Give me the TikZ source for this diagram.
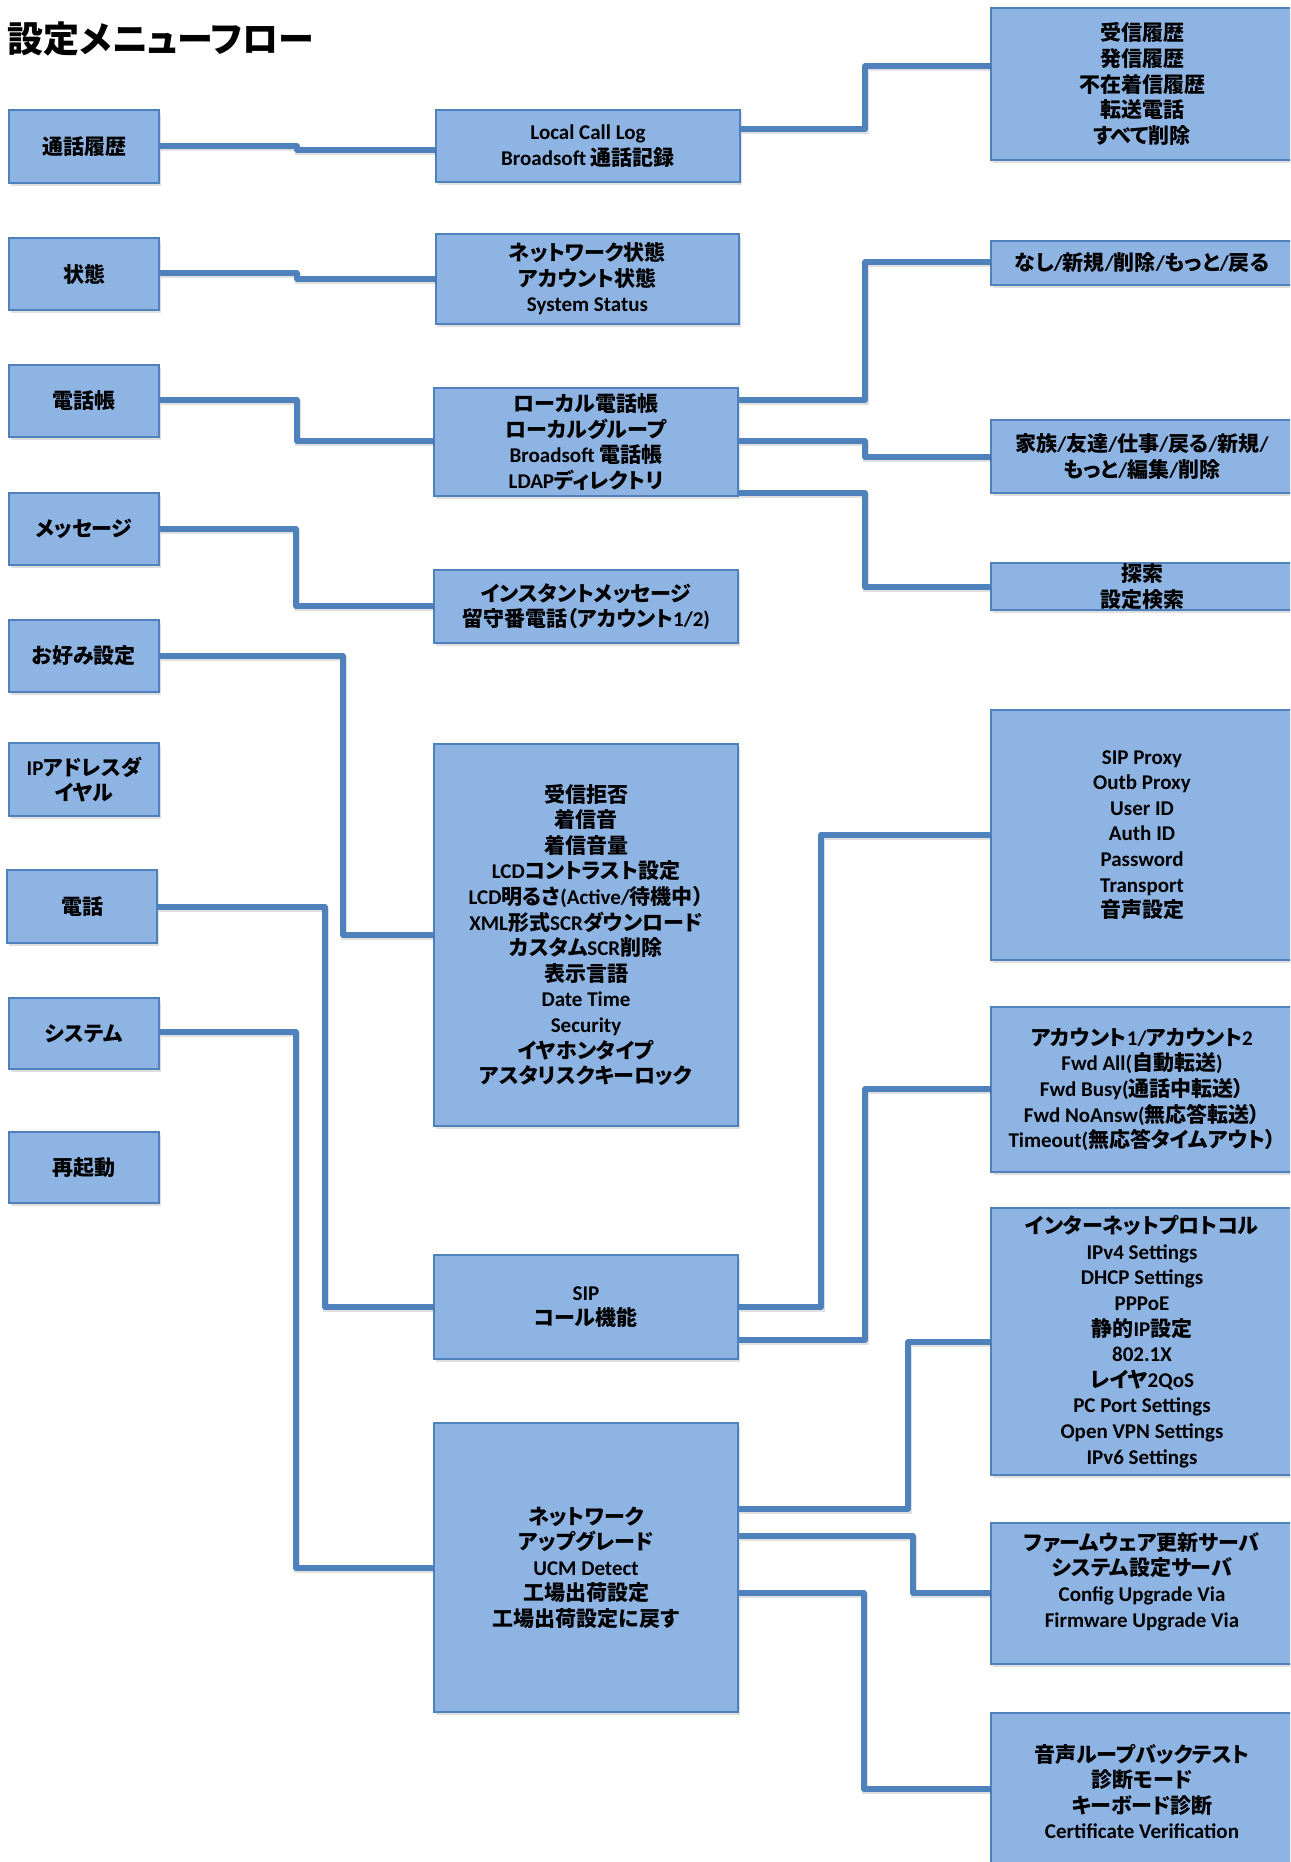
\documentclass[tikz,border=0pt]{standalone}
\usepackage{fontspec}
\setmainfont{Carlito}[Numbers=Lining]
\newfontfamily\jpfont{Noto Sans CJK JP}[Scale=1.0, RawFeature=+palt]
\usetikzlibrary{shadows}
\definecolor{boxfill}{HTML}{8EB4E3}
\definecolor{boxdraw}{HTML}{4F81BD}
\definecolor{linec}{HTML}{4F81BD}
\XeTeXinterchartokenstate=1
\newXeTeXintercharclass\jpclass
\makeatletter
\count@="3000
\loop \XeTeXcharclass\count@=\jpclass \ifnum\count@<"30FF \advance\count@ by 1 \repeat
\count@="4E00
\loop \XeTeXcharclass\count@=\jpclass \ifnum\count@<"9FFF \advance\count@ by 1 \repeat
\count@="FF00
\loop \XeTeXcharclass\count@=\jpclass \ifnum\count@<"FFEF \advance\count@ by 1 \repeat
\makeatother
\XeTeXinterchartoks 0 \jpclass = {\jpfont}
\XeTeXinterchartoks 4095 \jpclass = {\jpfont}
\XeTeXinterchartoks \jpclass 0 = {\rmfamily}
\XeTeXinterchartoks \jpclass 4095 = {\rmfamily}
\newcommand\bx[5]{\node[box, minimum width={#4-#2}, minimum height={#5-#3}] (#1) at ({(#2+#4)/2},{(#3+#5)/2}) {};}
\begin{document}
\begin{tikzpicture}[x=1pt,y=-1pt,
  box/.style={draw=boxdraw, fill=boxfill, line width=1.8pt, inner sep=0pt,
    drop shadow={shadow xshift=1.5pt, shadow yshift=-3pt, opacity=0.25}},
  txt/.style={align=center, inner sep=0pt, text=black, font=\bfseries\fontsize{21}{25.6}\selectfont},
  conn/.style={draw=linec, line width=5.5pt, line join=round,
    preaction={draw=black, opacity=0.12, line width=5.5pt, transform canvas={xshift=1pt, yshift=-2.5pt}}}]
\path[use as bounding box] (0,0) rectangle (1290,1862);
\fill[white] (0,0) rectangle (1290,1862);
\clip (0,0) rectangle (1290,1862);

\node[inner sep=0pt, font=\bfseries\fontsize{36}{42}\selectfont] (title) at (161,39) {設定メニューフロー};

% boxes
\bx{L1}{9}{110}{159}{183}
\bx{L2}{9}{238}{159}{310}
\bx{L3}{9}{365}{159}{437}
\bx{L4}{9}{493}{159}{565}
\bx{L5}{9}{620}{159}{692}
\bx{L6}{9}{743}{159}{816}
\bx{L7}{7}{870}{157}{943}
\bx{L8}{9}{998}{159}{1069}
\bx{L9}{9}{1132}{159}{1203}

\bx{M1}{436}{110}{740}{182}
\bx{M2}{436}{234}{739}{324}
\bx{M3}{434}{388}{738}{496}
\bx{M4}{434}{570}{738}{643}
\bx{M5}{434}{744}{738}{1126}
\bx{M6}{434}{1255}{738}{1359}
\bx{M7}{434}{1423}{738}{1712}

\bx{R1}{991}{8}{1293}{160}
\bx{R2}{991}{241}{1293}{285}
\bx{R3}{991}{420}{1293}{493}
\bx{R4}{991}{563}{1293}{610}
\bx{R5}{991}{710}{1293}{960}
\bx{R6}{991}{1007}{1293}{1172}
\bx{R7}{991}{1208}{1293}{1475}
\bx{R8}{991}{1523}{1293}{1664}
\bx{R9}{991}{1713}{1293}{1868}

% connectors left -> middle
\draw[conn] (L1.east |- 0,146) -- (297,146) -- (297,150) -- (M1.west |- 0,150);
\draw[conn] (L2.east |- 0,273) -- (297,273) -- (297,279) -- (M2.west |- 0,279);
\draw[conn] (L3.east |- 0,400) -- (297,400) -- (297,441) -- (M3.west |- 0,441);
\draw[conn] (L4.east |- 0,529) -- (296,529) -- (296,606) -- (M4.west |- 0,606);
\draw[conn] (L5.east |- 0,656) -- (343,656) -- (343,935) -- (M5.west |- 0,935);
\draw[conn] (L7.east |- 0,907) -- (325,907) -- (325,1307) -- (M6.west |- 0,1307);
\draw[conn] (L8.east |- 0,1032) -- (296,1032) -- (296,1568) -- (M7.west |- 0,1568);
% connectors middle -> right
\draw[conn] (M1.east |- 0,129) -- (865,129) -- (865,66) -- (R1.west |- 0,66);
\draw[conn] (M3.east |- 0,400) -- (865,400) -- (865,262) -- (R2.west |- 0,262);
\draw[conn] (M3.east |- 0,441) -- (865,441) -- (865,457) -- (R3.west |- 0,457);
\draw[conn] (M3.east |- 0,493) -- (865,493) -- (865,587) -- (R4.west |- 0,587);
\draw[conn] (M6.east |- 0,1307) -- (821,1307) -- (821,835) -- (R5.west |- 0,835);
\draw[conn] (M6.east |- 0,1340) -- (865,1340) -- (865,1089) -- (R6.west |- 0,1089);
\draw[conn] (M7.east |- 0,1509) -- (908,1509) -- (908,1342) -- (R7.west |- 0,1342);
\draw[conn] (M7.east |- 0,1536) -- (913,1536) -- (913,1593) -- (R8.west |- 0,1593);
\draw[conn] (M7.east |- 0,1593) -- (864,1593) -- (864,1789) -- (R9.west |- 0,1789);

% texts
\node[txt] (tL1) at (L1) {通話履歴};
\node[txt] (tL2) at (L2) {状態};
\node[txt] (tL3) at (L3) {電話帳};
\node[txt] (tL4) at (L4) {メッセージ};
\node[txt] (tL5) at (L5) {お好み設定};
\node[txt] (tL6) at (L6) {IPアドレスダ\\イヤル};
\node[txt] (tL7) at (L7) {電話};
\node[txt] (tL8) at (L8) {システム};
\node[txt] (tL9) at (L9) {再起動};

\node[txt] (tM1) at (M1) {Local Call Log\\Broadsoft 通話記録};
\node[txt] (tM2) at (M2) {ネットワーク状態\\アカウント状態\\System Status};
\node[txt] (tM3) at (M3) {ローカル電話帳\\ローカルグループ\\Broadsoft 電話帳\\LDAPディレクトリ};
\node[txt] (tM4) at (M4) {インスタントメッセージ\\留守番電話（アカウント1/2)};
\node[txt] (tM5) at (M5) {受信拒否\\着信音\\着信音量\\LCDコントラスト設定\\LCD明るさ(Active/待機中）\\XML形式SCRダウンロード\\カスタムSCR削除\\表示言語\\Date Time\\Security\\イヤホンタイプ\\アスタリスクキーロック};
\node[txt] (tM6) at (M6) {SIP\\コール機能};
\node[txt] (tM7) at (M7) {ネットワーク\\アップグレード\\UCM Detect\\工場出荷設定\\工場出荷設定に戻す};

\node[txt] (tR1) at (R1) {受信履歴\\発信履歴\\不在着信履歴\\転送電話\\すべて削除};
\node[txt] (tR2) at (R2) {なし/新規/削除/もっと/戻る};
\node[txt] (tR3) at (R3) {家族/友達/仕事/戻る/新規/\\もっと/編集/削除};
\node[txt] (tR4) at (R4) {探索\\設定検索};
\node[txt] (tR5) at (R5) {SIP Proxy\\Outb Proxy\\User ID\\Auth ID\\Password\\Transport\\音声設定};
\node[txt] (tR6) at (R6) {アカウント1/アカウント2\\Fwd All(自動転送)\\Fwd Busy(通話中転送）\\Fwd NoAnsw(無応答転送）\\Timeout(無応答タイムアウト）};
\node[txt] (tR7) at (R7) {インターネットプロトコル\\IPv4 Settings\\DHCP Settings\\PPPoE\\静的IP設定\\802.1X\\レイヤ2QoS\\PC Port Settings\\Open VPN Settings\\IPv6 Settings};
\node[txt] (tR8) at ([yshift=12pt]R8.center) {ファームウェア更新サーバ\\システム設定サーバ\\Config Upgrade Via\\Firmware Upgrade Via};
\node[txt] (tR9) at ([yshift=-1pt]R9.center) {音声ループバックテスト\\診断モード\\キーボード診断\\Certificate Verification};
\end{tikzpicture}
\end{document}
